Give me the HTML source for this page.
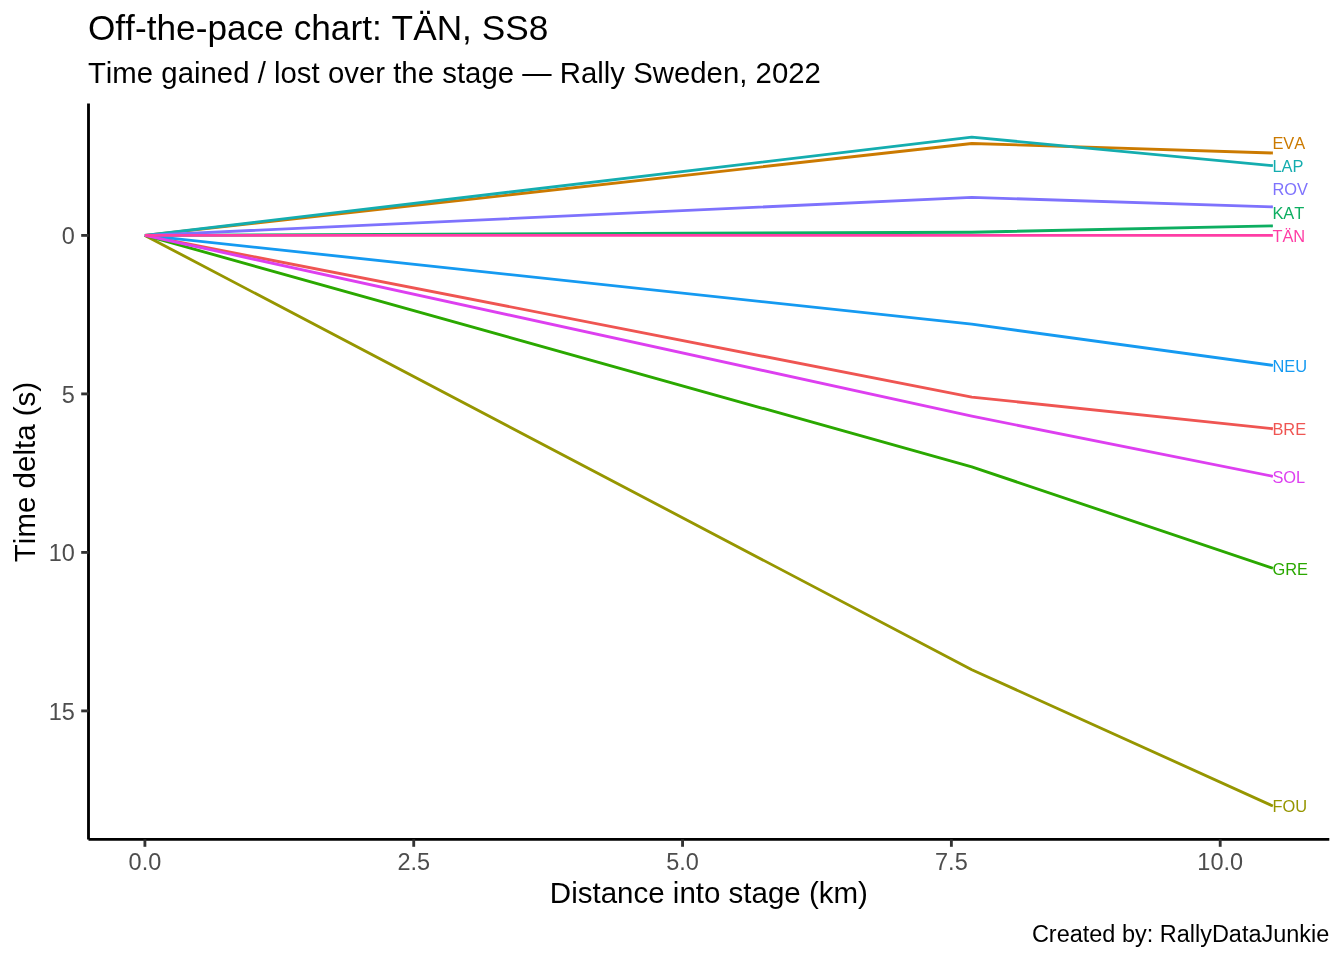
<!DOCTYPE html>
<html lang="en"><head><meta charset="utf-8"><title>Off-the-pace chart</title>
<style>
html,body{margin:0;padding:0;background:#fff;}
body{width:1344px;height:960px;overflow:hidden;}
svg{display:block;font-family:"Liberation Sans",Arial,Helvetica,sans-serif;font-kerning:none;}
.t{font-size:35.2px;fill:#000;letter-spacing:0.03px}
.s{font-size:29.33px;fill:#000;letter-spacing:0.02px}
.ax{font-size:29.5px;fill:#000}
.tk{font-size:23.47px;fill:#4d4d4d}
.cap{font-size:23.47px;fill:#000}
.lb{font-size:16.4px}
</style></head><body>
<svg width="1344" height="960" viewBox="0 0 1344 960">
<rect width="1344" height="960" fill="#fff"/>
<text class="t" x="87.9" y="40.25">Off-the-pace chart: TÄN, SS8</text>
<text class="s" x="87.9" y="82.5">Time gained / lost over the stage — Rally Sweden, 2022</text>
<g fill="none" stroke-width="2.85" stroke-linejoin="round" stroke-linecap="butt">
<polyline stroke="#EF5552" points="144.90,235.40 971.81,397.07 1272.89,428.77"/>
<polyline stroke="#CB7A00" points="144.90,235.40 971.81,143.47 1272.89,152.98"/>
<polyline stroke="#969600" points="144.90,235.40 971.81,669.69 1272.89,806.00"/>
<polyline stroke="#2AA800" points="144.90,235.40 971.81,466.81 1272.89,568.25"/>
<polyline stroke="#0DAE61" points="144.90,235.40 971.81,232.23 1272.89,225.89"/>
<polyline stroke="#14ADAF" points="144.90,235.40 971.81,137.13 1272.89,165.66"/>
<polyline stroke="#159AF1" points="144.90,235.40 971.81,324.16 1272.89,365.37"/>
<polyline stroke="#7E72FD" points="144.90,235.40 971.81,197.36 1272.89,206.87"/>
<polyline stroke="#DD3FF0" points="144.90,235.40 971.81,416.09 1272.89,476.32"/>
<polyline stroke="#FF3DA5" points="144.90,235.40 971.81,235.40 1272.89,235.40"/>
</g>
<g class="lb">
<text x="1272.4" y="434.70" fill="#EF5552">BRE</text>
<text x="1272.4" y="148.75" fill="#CB7A00">EVA</text>
<text x="1272.4" y="811.80" fill="#969600">FOU</text>
<text x="1272.4" y="574.75" fill="#2AA800">GRE</text>
<text x="1272.4" y="218.75" fill="#0DAE61">KAT</text>
<text x="1272.4" y="171.80" fill="#14ADAF">LAP</text>
<text x="1272.4" y="371.80" fill="#159AF1">NEU</text>
<text x="1272.4" y="194.70" fill="#7E72FD">ROV</text>
<text x="1272.4" y="482.80" fill="#DD3FF0">SOL</text>
<text x="1272.4" y="242.10" fill="#FF3DA5">TÄN</text>
</g>
<g stroke="#000" stroke-width="2.85" fill="none" stroke-linecap="butt">
<line x1="88.5" y1="103.5" x2="88.5" y2="839.4"/>
<line x1="88.5" y1="839.4" x2="1329.3" y2="839.4"/>
</g>
<g stroke="#333" stroke-width="2.85" fill="none">
<line x1="81.2" y1="235.40" x2="88.5" y2="235.40"/>
<line x1="81.2" y1="393.90" x2="88.5" y2="393.90"/>
<line x1="81.2" y1="552.40" x2="88.5" y2="552.40"/>
<line x1="81.2" y1="710.90" x2="88.5" y2="710.90"/>
<line x1="144.90" y1="839.4" x2="144.90" y2="846.8"/>
<line x1="413.73" y1="839.4" x2="413.73" y2="846.8"/>
<line x1="682.55" y1="839.4" x2="682.55" y2="846.8"/>
<line x1="951.38" y1="839.4" x2="951.38" y2="846.8"/>
<line x1="1220.20" y1="839.4" x2="1220.20" y2="846.8"/>
</g>
<g class="tk">
<text x="74.9" y="244.25" text-anchor="end">0</text>
<text x="74.9" y="402.75" text-anchor="end">5</text>
<text x="74.9" y="561.25" text-anchor="end">10</text>
<text x="74.9" y="719.75" text-anchor="end">15</text>
<text x="144.90" y="870.3" text-anchor="middle">0.0</text>
<text x="413.73" y="870.3" text-anchor="middle">2.5</text>
<text x="682.55" y="870.3" text-anchor="middle">5.0</text>
<text x="951.38" y="870.3" text-anchor="middle">7.5</text>
<text x="1220.20" y="870.3" text-anchor="middle">10.0</text>
</g>
<text class="ax" x="708.9" y="902.7" text-anchor="middle">Distance into stage (km)</text>
<text class="ax" transform="translate(35.3,472.0) rotate(-90)" text-anchor="middle">Time delta (s)</text>
<text class="cap" x="1329.3" y="941.5" text-anchor="end">Created by: RallyDataJunkie</text>
</svg>
</body></html>
